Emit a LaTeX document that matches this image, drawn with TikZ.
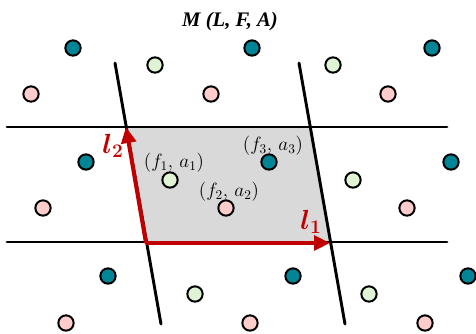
\documentclass[tikz,border=0pt]{standalone}
\usepackage{fontspec}
\newfontfamily\titlefont{Liberation Serif}
\usetikzlibrary{arrows.meta}
\definecolor{tealc}{RGB}{0,133,150}
\definecolor{pinkc}{RGB}{255,204,204}
\definecolor{greenc}{RGB}{222,244,212}
\definecolor{redc}{RGB}{192,0,0}
\definecolor{grayc}{RGB}{217,217,217}
\begin{document}
\begin{tikzpicture}[x=0.75pt,y=-0.75pt,
  lat/.style={line width=2.2pt,black,line cap=round},
  dot/.style={circle,draw=black,line width=1.5pt,minimum size=11.5pt,inner sep=0pt},
  tdot/.style={dot,fill=tealc},
  pdot/.style={dot,fill=pinkc},
  gdot/.style={dot,fill=greenc},
  vec/.style={line width=3pt,redc,-{Triangle[length=12pt,width=11pt]}},
  lab/.style={font=\fontsize{14.5}{16}\selectfont,inner sep=0pt},
  vlab/.style={text=redc,font=\fontsize{21}{24}\selectfont\boldmath,inner sep=0pt}]
\useasboundingbox (0,0) rectangle (476,333);
% corners
\coordinate (A) at (146,243);
\coordinate (B) at (330,243);
\coordinate (C) at (311,127);
\coordinate (D) at (126,127);
\fill[grayc] (A) -- (B) -- (C) -- (D) -- cycle;
% lattice lines
\coordinate (h1a) at (7,127); \coordinate (h1b) at (447,127);
\coordinate (h2a) at (7,242); \coordinate (h2b) at (447,242);
\coordinate (s1a) at (115,63); \coordinate (s1b) at (161,324);
\coordinate (s2a) at (299,63); \coordinate (s2b) at (345,324);
\draw[lat] (h1a) -- (h1b);
\draw[lat] (h2a) -- (h2b);
\draw[lat] (s1a) -- (s1b);
\draw[lat] (s2a) -- (s2b);
% teal
\node[tdot] (t1) at (73,48) {};
\node[tdot] (t2) at (252,48) {};
\node[tdot] (t3) at (432,48) {};
\node[tdot] (t4) at (86,162) {};
\node[tdot] (t5) at (269,162) {};
\node[tdot] (t6) at (451,162) {};
\node[tdot] (t7) at (108,276) {};
\node[tdot] (t8) at (293,276) {};
\node[tdot] (t9) at (468,276) {};
% green
\node[gdot] (g1) at (155,65) {};
\node[gdot] (g2) at (333,65) {};
\node[gdot] (g3) at (170,180) {};
\node[gdot] (g4) at (353,180) {};
\node[gdot] (g5) at (195,294) {};
\node[gdot] (g6) at (369,294) {};
% pink
\node[pdot] (p1) at (31,94) {};
\node[pdot] (p2) at (211,94) {};
\node[pdot] (p3) at (388,94) {};
\node[pdot] (p4) at (43,208) {};
\node[pdot] (p5) at (226,208) {};
\node[pdot] (p6) at (407,208) {};
\node[pdot] (p7) at (66,323) {};
\node[pdot] (p8) at (250,323) {};
\node[pdot] (p9) at (425,323) {};
% vectors
\draw[vec] (A) -- (B);
\draw[vec] (A) -- (D);
% labels
\node[vlab] (l1) at (311,222) {$l_1$};
\node[vlab] (l2) at (113,146) {$l_2$};
\node[lab] (fa1) at (174,163) {$(f_1,\,a_1)$};
\node[lab] (fa2) at (229,192) {$(f_2,\,a_2)$};
\node[lab] (fa3) at (273,146) {$(f_3,\,a_3)$};
\node[inner sep=0pt,font=\titlefont\fontsize{15.5}{18}\selectfont\bfseries\itshape] (title) at (230,22) {M (L, F, A)};
\end{tikzpicture}
\end{document}
